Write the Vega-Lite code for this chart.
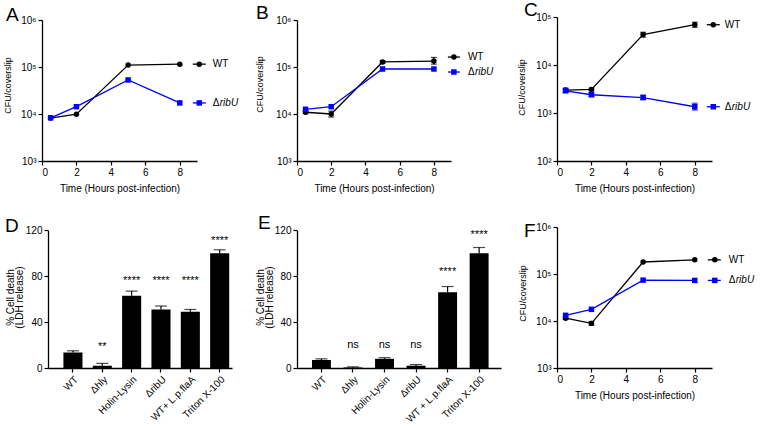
{
  "$schema": "https://vega.github.io/schema/vega-lite/v6.json",
  "padding": {"left": 2, "top": 0, "right": 0, "bottom": 0},
  "bounds": "flush",
  "align": "each",
  "columns": 3,
  "spacing": {"row": 66, "column": 50},
  "config": {
    "font": "Liberation Sans",
    "view": {"stroke": null},
    "title": {"font": "Liberation Sans", "fontWeight": "normal", "color": "#000000", "fontSize": 19},
    "axis": {"grid": false, "labelOverlap": false, "domainColor": "#000000", "domainWidth": 1.3, "tickColor": "#000000", "tickWidth": 1.2, "tickSize": 4, "labelColor": "#000000", "labelFontSize": 10, "titleColor": "#000000", "titleFontSize": 10, "titleFontWeight": "normal", "labelPadding": 2}
  },
  "datasets": {
    "A": [
      {"strain": "WT", "Time": 0.5, "CFU": 8200, "lo": null, "hi": null, "lab1": "WT", "lab2": ""},
      {"strain": "WT", "Time": 2, "CFU": 9900, "lo": null, "hi": null, "lab1": "WT", "lab2": ""},
      {"strain": "WT", "Time": 5, "CFU": 110000, "lo": null, "hi": null, "lab1": "WT", "lab2": ""},
      {"strain": "WT", "Time": 8, "CFU": 115000, "lo": null, "hi": null, "lab1": "WT", "lab2": ""},
      {"strain": "ΔribU", "Time": 0.5, "CFU": 8300, "lo": null, "hi": null, "lab1": "Δ", "lab2": "ribU"},
      {"strain": "ΔribU", "Time": 2, "CFU": 14300, "lo": null, "hi": null, "lab1": "Δ", "lab2": "ribU"},
      {"strain": "ΔribU", "Time": 5, "CFU": 53000, "lo": null, "hi": null, "lab1": "Δ", "lab2": "ribU"},
      {"strain": "ΔribU", "Time": 8, "CFU": 17200, "lo": null, "hi": null, "lab1": "Δ", "lab2": "ribU"}
    ],
    "B": [
      {"strain": "WT", "Time": 0.5, "CFU": 10900, "lo": 10200, "hi": 11600, "lab1": "WT", "lab2": ""},
      {"strain": "WT", "Time": 2, "CFU": 10000, "lo": 8600, "hi": 11500, "lab1": "WT", "lab2": ""},
      {"strain": "WT", "Time": 5, "CFU": 128000, "lo": 120000, "hi": 136000, "lab1": "WT", "lab2": ""},
      {"strain": "WT", "Time": 8, "CFU": 134000, "lo": 115000, "hi": 160000, "lab1": "WT", "lab2": ""},
      {"strain": "ΔribU", "Time": 0.5, "CFU": 12600, "lo": null, "hi": null, "lab1": "Δ", "lab2": "ribU"},
      {"strain": "ΔribU", "Time": 2, "CFU": 14300, "lo": null, "hi": null, "lab1": "Δ", "lab2": "ribU"},
      {"strain": "ΔribU", "Time": 5, "CFU": 90600, "lo": null, "hi": null, "lab1": "Δ", "lab2": "ribU"},
      {"strain": "ΔribU", "Time": 8, "CFU": 90600, "lo": null, "hi": null, "lab1": "Δ", "lab2": "ribU"}
    ],
    "C": [
      {"strain": "WT", "Time": 0.5, "CFU": 3000, "lo": 2700, "hi": 3300, "lab1": "WT", "lab2": ""},
      {"strain": "WT", "Time": 2, "CFU": 3100, "lo": 2900, "hi": 3300, "lab1": "WT", "lab2": ""},
      {"strain": "WT", "Time": 5, "CFU": 43000, "lo": 38000, "hi": 48000, "lab1": "WT", "lab2": ""},
      {"strain": "WT", "Time": 8, "CFU": 69000, "lo": 61000, "hi": 78000, "lab1": "WT", "lab2": ""},
      {"strain": "ΔribU", "Time": 0.5, "CFU": 2900, "lo": 2700, "hi": 3150, "lab1": "Δ", "lab2": "ribU"},
      {"strain": "ΔribU", "Time": 2, "CFU": 2400, "lo": 2200, "hi": 2650, "lab1": "Δ", "lab2": "ribU"},
      {"strain": "ΔribU", "Time": 5, "CFU": 2100, "lo": 1900, "hi": 2350, "lab1": "Δ", "lab2": "ribU"},
      {"strain": "ΔribU", "Time": 8, "CFU": 1350, "lo": 1150, "hi": 1600, "lab1": "Δ", "lab2": "ribU"}
    ],
    "F": [
      {"strain": "WT", "Time": 0.5, "CFU": 11500, "lo": 10800, "hi": 12300, "lab1": "WT", "lab2": ""},
      {"strain": "WT", "Time": 2, "CFU": 8900, "lo": 8100, "hi": 9800, "lab1": "WT", "lab2": ""},
      {"strain": "WT", "Time": 5, "CFU": 180000, "lo": null, "hi": null, "lab1": "WT", "lab2": ""},
      {"strain": "WT", "Time": 8, "CFU": 200000, "lo": null, "hi": null, "lab1": "WT", "lab2": ""},
      {"strain": "ΔribU", "Time": 0.5, "CFU": 13200, "lo": null, "hi": null, "lab1": "Δ", "lab2": "ribU"},
      {"strain": "ΔribU", "Time": 2, "CFU": 17700, "lo": null, "hi": null, "lab1": "Δ", "lab2": "ribU"},
      {"strain": "ΔribU", "Time": 5, "CFU": 74000, "lo": null, "hi": null, "lab1": "Δ", "lab2": "ribU"},
      {"strain": "ΔribU", "Time": 8, "CFU": 73000, "lo": null, "hi": null, "lab1": "Δ", "lab2": "ribU"}
    ],
    "D": [
      {"cond": "WT", "mean": 13.5, "hi": 15, "sig": "", "sigAt": 0},
      {"cond": "Δhly", "mean": 2, "hi": 4, "sig": "**", "sigAt": 18},
      {"cond": "Holin-Lysin", "mean": 63, "hi": 67, "sig": "****", "sigAt": 75.5},
      {"cond": "ΔribU", "mean": 51, "hi": 54, "sig": "****", "sigAt": 75.5},
      {"cond": "WT+ L.p.flaA", "mean": 49, "hi": 51, "sig": "****", "sigAt": 75.5},
      {"cond": "Triton X-100", "mean": 100, "hi": 103, "sig": "****", "sigAt": 110.5}
    ],
    "E": [
      {"cond": "WT", "mean": 7, "hi": 8, "sig": "", "sigAt": 0},
      {"cond": "Δhly", "mean": 0.5, "hi": 1, "sig": "ns", "sigAt": 20},
      {"cond": "Holin-Lysin", "mean": 8, "hi": 9, "sig": "ns", "sigAt": 20},
      {"cond": "ΔribU", "mean": 2, "hi": 3, "sig": "ns", "sigAt": 20},
      {"cond": "WT + L.p.flaA", "mean": 66, "hi": 71, "sig": "****", "sigAt": 83.5},
      {"cond": "Triton X-100", "mean": 100, "hi": 105, "sig": "****", "sigAt": 115.8}
    ]
  },
  "concat": [
    {
      "width": 205, "height": 144,
      "data": {"name": "A"},
      "title": {"text": "A", "anchor": "start", "frame": "group", "dx": -36, "dy": 25, "offset": 0, "baseline": "alphabetic"},
      "encoding": {
        "x": {"field": "Time", "type": "quantitative", "scale": {"domain": [0, 9], "nice": false, "range": [0, 155]}, "axis": {"values": [0, 2, 4, 6, 8], "title": "Time (Hours post-infection)", "titlePadding": 6}},
        "y": {"field": "CFU", "type": "quantitative", "title": "CFU/coverslip", "scale": {"type": "log", "domain": [1000, 1000000], "range": [144, 3], "nice": false}, "axis": {"values": [1000, 10000, 100000, 1000000], "labelExpr": "'10' + ['⁰','¹','²','³','⁴','⁵','⁶'][round(log(datum.value)/LN10)]", "titleFontSize": 9, "titleX": -30, "titleY": 68}},
        "color": {"field": "strain", "type": "nominal", "scale": {"domain": ["WT", "ΔribU"], "range": ["#000000", "#0000ff"]}, "legend": null}
      },
      "layer": [
        {"mark": {"type": "line", "strokeWidth": 1.3}},
        {"mark": {"type": "rule", "strokeWidth": 1.2}, "encoding": {"y": {"field": "lo", "type": "quantitative", "title": "CFU/coverslip"}, "y2": {"field": "hi"}}},
        {"mark": {"type": "tick", "orient": "horizontal", "size": 6, "thickness": 1.2}, "encoding": {"y": {"field": "lo", "type": "quantitative", "title": "CFU/coverslip"}}},
        {"mark": {"type": "tick", "orient": "horizontal", "size": 6, "thickness": 1.2}, "encoding": {"y": {"field": "hi", "type": "quantitative", "title": "CFU/coverslip"}}},
        {"mark": {"type": "point", "filled": true, "opacity": 1, "size": 30}, "encoding": {"shape": {"field": "strain", "type": "nominal", "scale": {"domain": ["WT", "ΔribU"], "range": ["circle", "square"]}, "legend": null}}},
        {"transform": [{"filter": "datum.Time == 8"}], "mark": {"type": "rule", "strokeWidth": 1.3, "xOffset": 13, "x2Offset": 26}, "encoding": {"x2": {"field": "Time"}}},
        {"transform": [{"filter": "datum.Time == 8"}], "mark": {"type": "point", "filled": true, "opacity": 1, "size": 30, "xOffset": 19.5}, "encoding": {"shape": {"field": "strain", "type": "nominal", "scale": {"domain": ["WT", "ΔribU"], "range": ["circle", "square"]}, "legend": null}}},
        {"transform": [{"filter": "datum.Time == 8"}], "mark": {"type": "text", "align": "left", "baseline": "middle", "dx": 33, "fontSize": 10}, "encoding": {"text": {"field": "lab1"}, "color": {"value": "#000000"}}},
        {"transform": [{"filter": "datum.Time == 8"}], "mark": {"type": "text", "align": "left", "baseline": "middle", "dx": 40, "fontSize": 10, "fontStyle": "italic"}, "encoding": {"text": {"field": "lab2"}, "color": {"value": "#000000"}}}
      ]
    },
    {
      "width": 210, "height": 144,
      "data": {"name": "B"},
      "title": {"text": "B", "anchor": "start", "frame": "group", "dx": -41, "dy": 23.3, "offset": 0, "baseline": "alphabetic"},
      "encoding": {
        "x": {"field": "Time", "type": "quantitative", "scale": {"domain": [0, 9], "nice": false, "range": [0, 154]}, "axis": {"values": [0, 2, 4, 6, 8], "title": "Time (Hours post-infection)", "titlePadding": 6}},
        "y": {"field": "CFU", "type": "quantitative", "title": "CFU/coverslip", "scale": {"type": "log", "domain": [1000, 1000000], "range": [144, 3], "nice": false}, "axis": {"values": [1000, 10000, 100000, 1000000], "labelExpr": "'10' + ['⁰','¹','²','³','⁴','⁵','⁶'][round(log(datum.value)/LN10)]", "titleFontSize": 9, "titleX": -33, "titleY": 67}},
        "color": {"field": "strain", "type": "nominal", "scale": {"domain": ["WT", "ΔribU"], "range": ["#000000", "#0000ff"]}, "legend": null}
      },
      "layer": [
        {"mark": {"type": "line", "strokeWidth": 1.3}},
        {"mark": {"type": "rule", "strokeWidth": 1.2}, "encoding": {"y": {"field": "lo", "type": "quantitative", "title": "CFU/coverslip"}, "y2": {"field": "hi"}}},
        {"mark": {"type": "tick", "orient": "horizontal", "size": 6, "thickness": 1.2}, "encoding": {"y": {"field": "lo", "type": "quantitative", "title": "CFU/coverslip"}}},
        {"mark": {"type": "tick", "orient": "horizontal", "size": 6, "thickness": 1.2}, "encoding": {"y": {"field": "hi", "type": "quantitative", "title": "CFU/coverslip"}}},
        {"mark": {"type": "point", "filled": true, "opacity": 1, "size": 30}, "encoding": {"shape": {"field": "strain", "type": "nominal", "scale": {"domain": ["WT", "ΔribU"], "range": ["circle", "square"]}, "legend": null}}},
        {"transform": [{"filter": "datum.Time == 8 && datum.strain == 'WT'"}], "mark": {"type": "rule", "strokeWidth": 1.3, "xOffset": 14, "x2Offset": 26, "yOffset": -4}, "encoding": {"x2": {"field": "Time"}}},
        {"transform": [{"filter": "datum.Time == 8 && datum.strain == 'WT'"}], "mark": {"type": "point", "filled": true, "opacity": 1, "size": 30, "xOffset": 20, "yOffset": -4}, "encoding": {"shape": {"field": "strain", "type": "nominal", "scale": {"domain": ["WT", "ΔribU"], "range": ["circle", "square"]}, "legend": null}}},
        {"transform": [{"filter": "datum.Time == 8 && datum.strain == 'WT'"}], "mark": {"type": "text", "align": "left", "baseline": "middle", "dx": 34, "dy": -4, "fontSize": 10}, "encoding": {"text": {"field": "lab1"}, "color": {"value": "#000000"}}},
        {"transform": [{"filter": "datum.Time == 8 && datum.strain != 'WT'"}], "mark": {"type": "rule", "strokeWidth": 1.3, "xOffset": 14, "x2Offset": 26, "yOffset": 3}, "encoding": {"x2": {"field": "Time"}}},
        {"transform": [{"filter": "datum.Time == 8 && datum.strain != 'WT'"}], "mark": {"type": "point", "filled": true, "opacity": 1, "size": 30, "xOffset": 20, "yOffset": 3}, "encoding": {"shape": {"field": "strain", "type": "nominal", "scale": {"domain": ["WT", "ΔribU"], "range": ["circle", "square"]}, "legend": null}}},
        {"transform": [{"filter": "datum.Time == 8 && datum.strain != 'WT'"}], "mark": {"type": "text", "align": "left", "baseline": "middle", "dx": 34, "dy": 3, "fontSize": 10}, "encoding": {"text": {"field": "lab1"}, "color": {"value": "#000000"}}},
        {"transform": [{"filter": "datum.Time == 8 && datum.strain != 'WT'"}], "mark": {"type": "text", "align": "left", "baseline": "middle", "dx": 41, "dy": 3, "fontSize": 10, "fontStyle": "italic"}, "encoding": {"text": {"field": "lab2"}, "color": {"value": "#000000"}}}
      ]
    },
    {
      "width": 155, "height": 144,
      "data": {"name": "C"},
      "title": {"text": "C", "anchor": "start", "frame": "group", "dx": -33, "dy": 22.8, "offset": 0, "baseline": "alphabetic"},
      "encoding": {
        "x": {"field": "Time", "type": "quantitative", "scale": {"domain": [0, 9], "nice": false}, "axis": {"values": [0, 2, 4, 6, 8], "title": "Time (Hours post-infection)", "titlePadding": 6}},
        "y": {"field": "CFU", "type": "quantitative", "title": "CFU/coverslip", "scale": {"type": "log", "domain": [100, 100000], "nice": false}, "axis": {"values": [100, 1000, 10000, 100000], "labelExpr": "'10' + ['⁰','¹','²','³','⁴','⁵','⁶'][round(log(datum.value)/LN10)]", "titleFontSize": 9, "titleX": -31, "titleY": 70}},
        "color": {"field": "strain", "type": "nominal", "scale": {"domain": ["WT", "ΔribU"], "range": ["#000000", "#0000ff"]}, "legend": null}
      },
      "layer": [
        {"mark": {"type": "line", "strokeWidth": 1.3}},
        {"mark": {"type": "rule", "strokeWidth": 1.2}, "encoding": {"y": {"field": "lo", "type": "quantitative", "title": "CFU/coverslip"}, "y2": {"field": "hi"}}},
        {"mark": {"type": "tick", "orient": "horizontal", "size": 6, "thickness": 1.2}, "encoding": {"y": {"field": "lo", "type": "quantitative", "title": "CFU/coverslip"}}},
        {"mark": {"type": "tick", "orient": "horizontal", "size": 6, "thickness": 1.2}, "encoding": {"y": {"field": "hi", "type": "quantitative", "title": "CFU/coverslip"}}},
        {"mark": {"type": "point", "filled": true, "opacity": 1, "size": 30}, "encoding": {"shape": {"field": "strain", "type": "nominal", "scale": {"domain": ["WT", "ΔribU"], "range": ["circle", "square"]}, "legend": null}}},
        {"transform": [{"filter": "datum.Time == 8"}], "mark": {"type": "rule", "strokeWidth": 1.3, "xOffset": 12, "x2Offset": 25}, "encoding": {"x2": {"field": "Time"}}},
        {"transform": [{"filter": "datum.Time == 8"}], "mark": {"type": "point", "filled": true, "opacity": 1, "size": 30, "xOffset": 18.5}, "encoding": {"shape": {"field": "strain", "type": "nominal", "scale": {"domain": ["WT", "ΔribU"], "range": ["circle", "square"]}, "legend": null}}},
        {"transform": [{"filter": "datum.Time == 8"}], "mark": {"type": "text", "align": "left", "baseline": "middle", "dx": 30, "fontSize": 10}, "encoding": {"text": {"field": "lab1"}, "color": {"value": "#000000"}}},
        {"transform": [{"filter": "datum.Time == 8"}], "mark": {"type": "text", "align": "left", "baseline": "middle", "dx": 37, "fontSize": 10, "fontStyle": "italic"}, "encoding": {"text": {"field": "lab2"}, "color": {"value": "#000000"}}}
      ]
    },
    {
      "width": 205, "height": 141,
      "data": {"name": "D"},
      "title": {"text": "D", "anchor": "start", "frame": "group", "dx": -37, "dy": 26, "offset": 0, "baseline": "alphabetic"},
      "encoding": {
        "x": {"field": "cond", "type": "nominal", "sort": null, "scale": {"range": [6, 190], "paddingInner": 0.35, "paddingOuter": 0.31, "align": 0.847}, "axis": {"labelAngle": -45, "title": null, "labelFontSize": 10}}
      },
      "layer": [
        {"mark": {"type": "bar", "color": "#000000"}, "encoding": {"y": {"field": "mean", "type": "quantitative", "title": ["% Cell death", "(LDH release)"], "scale": {"domain": [0, 120], "range": [141, 3.3], "nice": false}, "axis": {"values": [0, 20, 40, 60, 80, 100, 120], "offset": -6, "titleFontSize": 10, "titleLineHeight": 9, "titleX": -33, "titleY": 70}}}},
        {"mark": {"type": "rule", "color": "#000000", "strokeWidth": 1.2}, "encoding": {"y": {"field": "mean", "type": "quantitative", "title": ["% Cell death", "(LDH release)"]}, "y2": {"field": "hi"}}},
        {"mark": {"type": "tick", "orient": "horizontal", "size": 12, "thickness": 1.2, "color": "#000000"}, "encoding": {"y": {"field": "hi", "type": "quantitative", "title": ["% Cell death", "(LDH release)"]}}},
        {"transform": [{"filter": "datum.sig != ''"}], "mark": {"type": "text", "fontSize": 11, "baseline": "middle", "color": "#000000"}, "encoding": {"y": {"field": "sigAt", "type": "quantitative", "title": ["% Cell death", "(LDH release)"]}, "text": {"field": "sig"}}}
      ]
    },
    {
      "width": 210, "height": 141,
      "data": {"name": "E"},
      "title": {"text": "E", "anchor": "start", "frame": "group", "dx": -39, "dy": 23, "offset": 0, "baseline": "alphabetic"},
      "encoding": {
        "x": {"field": "cond", "type": "nominal", "sort": null, "scale": {"range": [0, 204], "paddingInner": 0.4, "paddingOuter": 0.434, "align": 0.547}, "axis": {"labelAngle": -45, "title": null, "labelFontSize": 10}}
      },
      "layer": [
        {"mark": {"type": "bar", "color": "#000000"}, "encoding": {"y": {"field": "mean", "type": "quantitative", "title": ["% Cell death", "(LDH release)"], "scale": {"domain": [0, 120], "range": [141, 3.3], "nice": false}, "axis": {"values": [0, 20, 40, 60, 80, 100, 120], "titleFontSize": 10, "titleLineHeight": 9, "titleX": -32, "titleY": 70}}}},
        {"mark": {"type": "rule", "color": "#000000", "strokeWidth": 1.2}, "encoding": {"y": {"field": "mean", "type": "quantitative", "title": ["% Cell death", "(LDH release)"]}, "y2": {"field": "hi"}}},
        {"mark": {"type": "tick", "orient": "horizontal", "size": 12, "thickness": 1.2, "color": "#000000"}, "encoding": {"y": {"field": "hi", "type": "quantitative", "title": ["% Cell death", "(LDH release)"]}}},
        {"transform": [{"filter": "datum.sig != ''"}], "mark": {"type": "text", "fontSize": 11, "baseline": "middle", "color": "#000000"}, "encoding": {"y": {"field": "sigAt", "type": "quantitative", "title": ["% Cell death", "(LDH release)"]}, "text": {"field": "sig"}}}
      ]
    },
    {
      "width": 155, "height": 141,
      "data": {"name": "F"},
      "title": {"text": "F", "anchor": "start", "frame": "group", "dx": -33, "dy": 34, "offset": 0, "baseline": "alphabetic"},
      "encoding": {
        "x": {"field": "Time", "type": "quantitative", "scale": {"domain": [0, 9], "nice": false}, "axis": {"values": [0, 2, 4, 6, 8], "title": "Time (Hours post-infection)", "titlePadding": 6}},
        "y": {"field": "CFU", "type": "quantitative", "title": "CFU/coverslip", "scale": {"type": "log", "domain": [1000, 1000000], "nice": false}, "axis": {"values": [1000, 10000, 100000, 1000000], "labelExpr": "'10' + ['⁰','¹','²','³','⁴','⁵','⁶'][round(log(datum.value)/LN10)]", "titleFontSize": 9, "titleX": -30, "titleY": 66}},
        "color": {"field": "strain", "type": "nominal", "scale": {"domain": ["WT", "ΔribU"], "range": ["#000000", "#0000ff"]}, "legend": null}
      },
      "layer": [
        {"mark": {"type": "line", "strokeWidth": 1.3}},
        {"mark": {"type": "rule", "strokeWidth": 1.2}, "encoding": {"y": {"field": "lo", "type": "quantitative", "title": "CFU/coverslip"}, "y2": {"field": "hi"}}},
        {"mark": {"type": "tick", "orient": "horizontal", "size": 6, "thickness": 1.2}, "encoding": {"y": {"field": "lo", "type": "quantitative", "title": "CFU/coverslip"}}},
        {"mark": {"type": "tick", "orient": "horizontal", "size": 6, "thickness": 1.2}, "encoding": {"y": {"field": "hi", "type": "quantitative", "title": "CFU/coverslip"}}},
        {"mark": {"type": "point", "filled": true, "opacity": 1, "size": 30}, "encoding": {"shape": {"field": "strain", "type": "nominal", "scale": {"domain": ["WT", "ΔribU"], "range": ["circle", "square"]}, "legend": null}}},
        {"transform": [{"filter": "datum.Time == 8"}], "mark": {"type": "rule", "strokeWidth": 1.3, "xOffset": 13, "x2Offset": 26}, "encoding": {"x2": {"field": "Time"}}},
        {"transform": [{"filter": "datum.Time == 8"}], "mark": {"type": "point", "filled": true, "opacity": 1, "size": 30, "xOffset": 20}, "encoding": {"shape": {"field": "strain", "type": "nominal", "scale": {"domain": ["WT", "ΔribU"], "range": ["circle", "square"]}, "legend": null}}},
        {"transform": [{"filter": "datum.Time == 8"}], "mark": {"type": "text", "align": "left", "baseline": "middle", "dx": 34, "fontSize": 10}, "encoding": {"text": {"field": "lab1"}, "color": {"value": "#000000"}}},
        {"transform": [{"filter": "datum.Time == 8"}], "mark": {"type": "text", "align": "left", "baseline": "middle", "dx": 41, "fontSize": 10, "fontStyle": "italic"}, "encoding": {"text": {"field": "lab2"}, "color": {"value": "#000000"}}}
      ]
    }
  ]
}
